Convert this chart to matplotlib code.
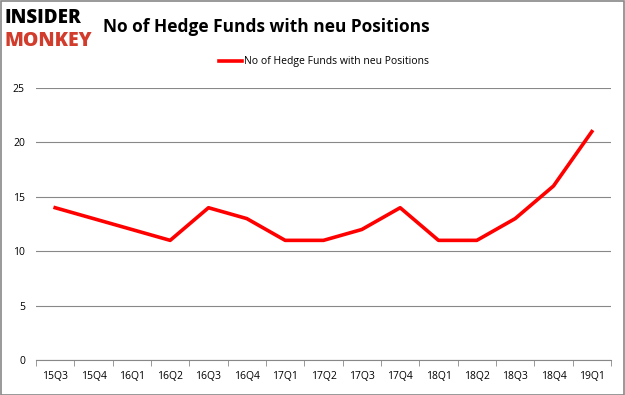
import matplotlib
matplotlib.use("Agg")
import matplotlib.pyplot as plt
import numpy as np

quarters = ["15Q3", "15Q4", "16Q1", "16Q2", "16Q3", "16Q4", "17Q1", "17Q2",
            "17Q3", "17Q4", "18Q1", "18Q2", "18Q3", "18Q4", "19Q1"]
new_positions = [14, 13, 12, 11, 14, 13, 11, 11, 12, 14, 11, 11, 13, 16, 21]
y_ticks = [0, 5, 10, 15, 20, 25]

plt.rcParams['font.family'] = ['Open Sans', 'DejaVu Sans']

fig = plt.figure(figsize=(6.25, 3.95), dpi=100)
ax = fig.add_axes([0.0576, 0.0886, 0.92, 0.6884])

x = np.arange(len(quarters))
ax.plot(x, new_positions, color='#ff0000', lw=2.6, label='No of Hedge Funds with neu Positions')

ax.set_xlim(-0.5, len(quarters) - 0.5)
ax.set_ylim(0, 25)
ax.set_yticks(y_ticks)
ax.set_xticks(x)
ax.set_xticklabels(quarters, fontsize=7.5)
ax.tick_params(axis='y', labelsize=7.5, length=0, pad=8)
ax.tick_params(axis='x', length=0, pad=8)
# minor ticks between categories like excel
ax.set_xticks(np.arange(-0.5, len(quarters)), minor=True)
ax.tick_params(axis='x', which='minor', length=4, color='#888888')
ax.grid(axis='y', color='#888888', lw=0.8)
ax.set_axisbelow(True)
for s in ['top', 'right', 'left']:
    ax.spines[s].set_visible(False)
ax.spines['bottom'].set_color('#888888')

ax.legend(loc='center', bbox_to_anchor=(0.5, 1.096), frameon=False,
          fontsize=7.5, handlelength=2.3, handletextpad=0.1)

fig.text(0.165, 0.932, 'No of Hedge Funds with neu Positions', fontsize=12.5,
         fontweight='bold', va='center', ha='left')
fig.text(0.008, 0.955, 'INSIDER', fontsize=13.5, fontweight='heavy', color='black',
         va='center', ha='left')
fig.text(0.008, 0.897, 'MONKEY', fontsize=14, fontweight='heavy', color='#d23c2c',
         va='center', ha='left')

# outer border
fig.patches.append(plt.Rectangle((0.001, 0.001), 0.998, 0.997, transform=fig.transFigure,
                                 fill=False, edgecolor='#888888', lw=1.2))

plt.savefig('out.png', dpi=100)
